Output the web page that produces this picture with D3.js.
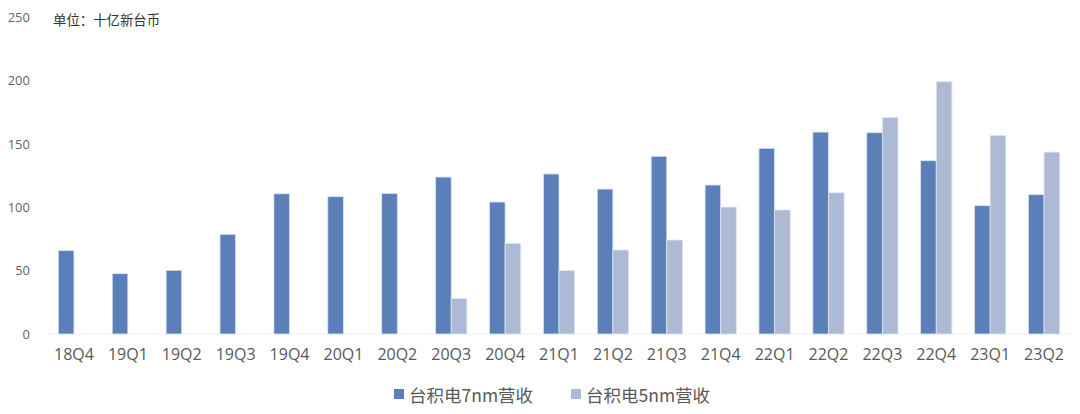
<!DOCTYPE html>
<html>
<head>
<meta charset="utf-8">
<script src="https://cdn.jsdelivr.net/npm/d3@7"></script>
<style>
  body { margin: 0; background: #fff; }
  text { font-family: "Open Sans", "Noto Sans CJK SC", sans-serif; }
</style>
</head>
<body>
<div id="chart"></div>
<script>
// Data
const quarters = ["18Q4","19Q1","19Q2","19Q3","19Q4","20Q1","20Q2","20Q3","20Q4","21Q1",
                  "21Q2","21Q3","21Q4","22Q1","22Q2","22Q3","22Q4","23Q1","23Q2"];
const rev7nm = [65.8, 47.6, 50.3, 78.7, 110.7, 108.4, 111.0, 123.9, 104.2, 126.3,
                114.4, 140.3, 117.6, 146.6, 159.4, 158.9, 136.8, 101.3, 110.0];
const rev5nm = [null, null, null, null, null, null, null, 27.9, 71.6, 50.0,
                66.3, 74.2, 100.2, 97.9, 111.5, 171.0, 199.1, 156.8, 143.6];
const seriesNames = ["台积电7nm营收", "台积电5nm营收"];
const yTicks = [0, 50, 100, 150, 200, 250];

const colors = ["#5b80b9", "#adbad5"];
const W = 1080, H = 414;

const svg = d3.select("#chart").append("svg")
  .attr("width", W).attr("height", H);

// Scales
const x0 = d3.scaleBand().domain(quarters).range([47, 1071])
  .paddingInner(0.42).paddingOuter(0.21);
const x1 = d3.scaleBand().domain([0, 1]).range([0, x0.bandwidth()]);
const y = d3.scaleLinear().domain([0, 250]).range([334, 17.3]);

// Y axis labels
svg.append("g")
  .attr("transform", "translate(30,0)")
  .call(d3.axisLeft(y).tickValues(yTicks).tickSize(0).tickPadding(0))
  .call(g => g.select(".domain").remove())
  .selectAll("text")
    .attr("font-size", 13)
    .attr("fill", "#666666")
    .style("font-family", "Open Sans, sans-serif");

// Unit label
svg.append("text")
  .attr("x", 53).attr("y", 25)
  .attr("font-size", 13.4)
  .attr("fill", "#333333")
  .style("font-family", "Noto Sans CJK SC, sans-serif")
  .text("单位：十亿新台币");

// Baseline
svg.append("line")
  .attr("x1", 47).attr("x2", 1071)
  .attr("y1", y(0)).attr("y2", y(0))
  .attr("stroke", "#eef1f7").attr("stroke-width", 1.2);

// Bars
const series = [rev7nm, rev5nm];
series.forEach((vals, si) => {
  svg.append("g").selectAll("rect")
    .data(quarters.map((q, i) => ({q, v: vals[i]})).filter(d => d.v != null))
    .join("rect")
      .attr("x", d => x0(d.q) + x1(si))
      .attr("y", d => y(d.v))
      .attr("width", x1.bandwidth())
      .attr("height", d => y(0) - y(d.v))
      .attr("fill", colors[si])
      .attr("stroke", "#dde5f1")
      .attr("stroke-width", 0.8);
});

// X axis labels
svg.append("g")
  .attr("transform", "translate(0," + 346 + ")")
  .call(d3.axisBottom(x0).tickSize(0).tickPadding(0))
  .call(g => g.select(".domain").remove())
  .selectAll("text")
    .attr("font-size", 16)
    .attr("dy", "0.9em")
    .attr("fill", "#595959")
    .style("font-family", "Open Sans, sans-serif");

// Legend
const legendX = [394, 571];
seriesNames.forEach((name, i) => {
  const g = svg.append("g").attr("transform", "translate(" + legendX[i] + ",389)");
  g.append("rect").attr("width", 10).attr("height", 10).attr("fill", colors[i]);
  g.append("text")
    .attr("x", 15).attr("y", 13)
    .attr("font-size", 17.5)
    .attr("fill", "#595959")
    .style("font-family", "Noto Sans CJK SC, sans-serif")
    .text(name);
});
</script>
</body>
</html>
